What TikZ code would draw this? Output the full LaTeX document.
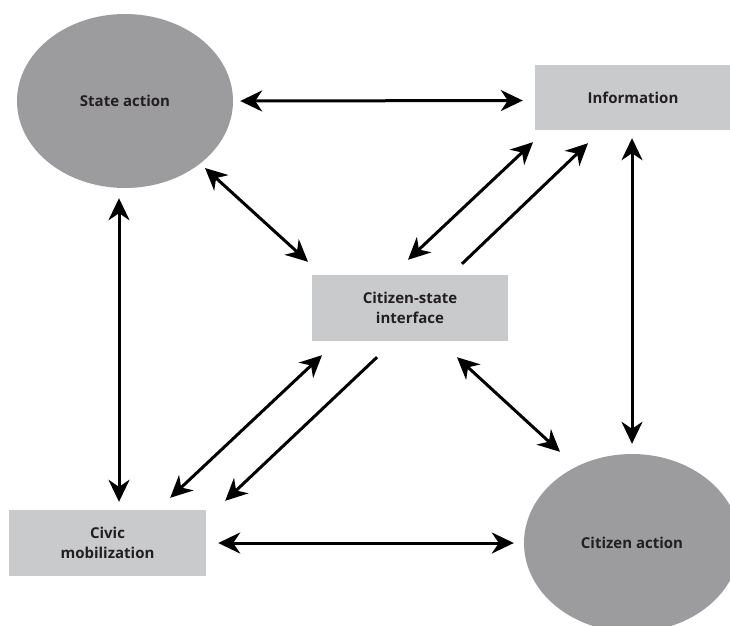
\documentclass[tikz,border=0pt]{standalone}
\usepackage{fontspec}
\setmainfont{Open Sans}
\usetikzlibrary{arrows.meta,shapes.geometric}
\definecolor{ovalgray}{HTML}{9C9C9E}
\definecolor{boxgray}{HTML}{C9CACC}
\definecolor{inkdark}{HTML}{231F20}
\begin{document}
\begin{tikzpicture}[x=1pt,y=-1pt,
  label text/.style={font=\bfseries\fontsize{15}{20}\selectfont,text=inkdark,align=center},
  oval/.style={ellipse,fill=ovalgray,draw=none,inner sep=0pt,label text},
  panel/.style={rectangle,fill=boxgray,draw=none,inner sep=0pt,label text},
  link/.style={line width=3pt,draw=black},
  both/.style={link,{Stealth[length=22pt,width=21pt,inset=7pt]}-{Stealth[length=22pt,width=21pt,inset=7pt]}},
  one/.style={link,-{Stealth[length=22pt,width=21pt,inset=7pt]}}]
\useasboundingbox (0,0) rectangle (730,625);
\fill[white] (0,0) rectangle (730,625);

% nodes
\node[oval,minimum width=216pt,minimum height=174pt] (sa) at (125,101) {State action};
\node[panel,minimum width=196pt,minimum height=65pt] (info) at (633,97.5) {Information};
\node[panel,minimum width=196pt,minimum height=66pt] (csi) at (410,308) {Citizen-state\\interface};
\node[panel,minimum width=197pt,minimum height=66pt] (civ) at (107.5,543) {Civic\\mobilization};
\node[oval,minimum width=216pt,minimum height=178pt] (ca) at (632,543) {Citizen action};

% outer links
\draw[both] ([shift={(7,0)}]sa.east) -- ([shift={(-12,3)}]info.west);
\draw[both] ([shift={(-6,10)}]sa.south) -- ([shift={(11.5,-8)}]civ.north);
\draw[both] ([shift={(-1,8)}]info.south) -- ([shift={(0,-10)}]ca.north);
\draw[both] ([shift={(12,0)}]civ.east) -- ([shift={(-10,0)}]ca.west);

% links through the interface
\draw[both] ([shift={(80,67)}]sa.center) -- ([shift={(-102,-13)}]csi.north);
\draw[both] ([shift={(47,16)}]csi.south) -- ([shift={(-72,-2)}]ca.north);
\draw[both] ([shift={(-2,-15)}]csi.north) -- ([shift={(-100,12)}]info.south);
\draw[one] ([shift={(52,-11)}]csi.north) -- ([shift={(-45,13)}]info.south);
\draw[both] ([shift={(-36,-12)}]civ.north east) -- ([shift={(-88,14)}]csi.south);
\draw[one] ([shift={(-33,16)}]csi.south) -- ([shift={(19,-9)}]civ.north east);
\end{tikzpicture}
\end{document}
